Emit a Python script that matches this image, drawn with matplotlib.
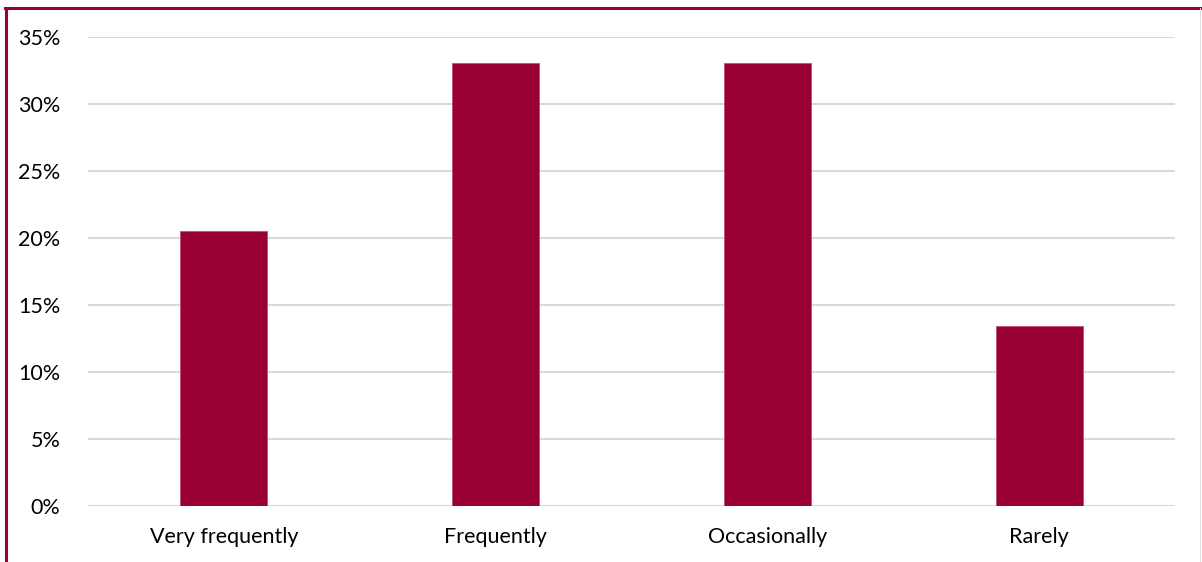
import matplotlib.pyplot as plt
from matplotlib.lines import Line2D
from matplotlib.ticker import FuncFormatter

categories = ["Very frequently", "Frequently", "Occasionally", "Rarely"]
values = [20.5, 33.05, 33.05, 13.4]

bar_color = "#990033"
grid_color = "#d9d9d9"

plt.rcParams['font.family'] = ['Lato', 'DejaVu Sans']

fig = plt.figure(figsize=(12.02, 5.62), dpi=100)
W, H = 1202, 562
ax = fig.add_axes([88 / W, 1 - 506 / H, (1175 - 88) / W, (506 - 37) / H])

x = range(len(categories))
ax.bar(x, values, width=0.32, color=bar_color, edgecolor="#c05070", linewidth=0.6, zorder=3)

ax.set_xlim(-0.5, len(categories) - 0.5)
ax.set_ylim(0, 35)
ax.set_yticks(range(0, 36, 5))
ax.yaxis.set_major_formatter(FuncFormatter(lambda v, p: f"{int(v)}%"))
ax.set_xticks(list(x))
ax.set_xticklabels(categories)

ax.grid(axis="y", color=grid_color, linewidth=1.5, zorder=0)
for s in ax.spines.values():
    s.set_visible(False)
ax.tick_params(length=0, labelsize=15.5, colors="#000000")
ax.tick_params(axis="y", pad=20)
ax.tick_params(axis="x", pad=15)

# outer frame (only left and top edges visible in the crop)
fig.add_artist(Line2D([6 / W, 6 / W], [0, 1 - 8 / H], color=bar_color, linewidth=2.2, transform=fig.transFigure))
fig.add_artist(Line2D([5 / W, 1], [1 - 8 / H, 1 - 8 / H], color=bar_color, linewidth=2.2, transform=fig.transFigure))
fig.add_artist(Line2D([1200 / W, 1200 / W], [0, 1 - 8 / H], color="#e0e0e0", linewidth=0.8, transform=fig.transFigure))

fig.savefig("out.png", dpi=100)
